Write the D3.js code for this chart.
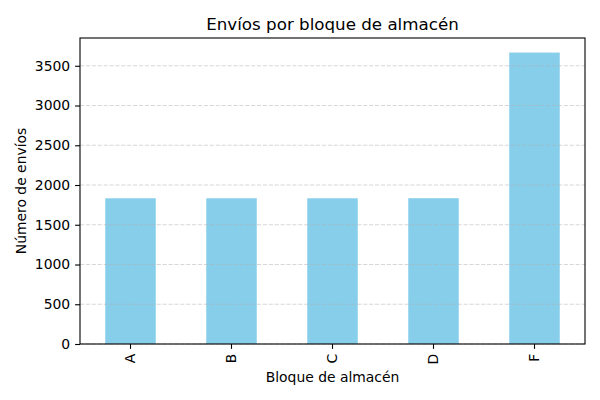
<!DOCTYPE html>
<html><head><meta charset="utf-8">
<script src="https://cdn.jsdelivr.net/npm/d3@7"></script>
<style>body{margin:0;background:#fff}svg{display:block}text{font-family:"DejaVu Sans",sans-serif;fill:#000}</style>
</head><body>
<script>
const categories = ["A", "B", "C", "D", "F"];
const values = [1833, 1833, 1833, 1834, 3666];
const yTicks = [0, 500, 1000, 1500, 2000, 2500, 3000, 3500];
const title = "Envíos por bloque de almacén";
const xLabel = "Bloque de almacén";
const yLabel = "Número de envíos";

const W = 600, H = 400;
const m = {l: 80, r: 15, t: 38, b: 56};
const svg = d3.select("body").append("svg").attr("width", W).attr("height", H);
const iw = W - m.l - m.r, ih = H - m.t - m.b;
const g = svg.append("g").attr("transform", `translate(${m.l},${m.t})`);

const x = d3.scaleBand().domain(categories).range([0, iw]).paddingInner(0.5).paddingOuter(0.25);
const y = d3.scaleLinear().domain([0, d3.max(values) * 1.05]).range([ih, 0]);

g.selectAll("rect.bar").data(categories).join("rect").attr("class", "bar")
  .attr("x", d => x(d)).attr("width", x.bandwidth())
  .attr("y", (d, i) => y(values[i])).attr("height", (d, i) => ih - y(values[i]))
  .attr("fill", "#87CEEB");

// grid (above bars)
g.selectAll("line.grid").data(yTicks).join("line").attr("class", "grid")
  .attr("x1", 0).attr("x2", iw).attr("y1", d => y(d)).attr("y2", d => y(d))
  .attr("stroke", "#b0b0b0").attr("stroke-opacity", 0.5).attr("stroke-width", 1.1)
  .attr("stroke-dasharray", "4.1,1.8");

const yAxis = d3.axisLeft(y).tickValues(yTicks).tickSize(4.9).tickPadding(4.9).tickFormat(d3.format("d"));
const ya = g.append("g").call(yAxis);
ya.select(".domain").remove();
ya.selectAll("text").style("font-size", "13.9px").style("font-family", "DejaVu Sans");
ya.selectAll("line").attr("stroke-width", 1.1);

const xAxis = d3.axisBottom(x).tickSize(4.9).tickPadding(4.9);
const xa = g.append("g").attr("transform", `translate(0,${ih})`).call(xAxis);
xa.select(".domain").remove();
xa.selectAll("line").attr("stroke-width", 1.1);
xa.selectAll("text").style("font-size", "13.9px").style("font-family", "DejaVu Sans")
  .attr("transform", "rotate(-90)").attr("text-anchor", "end").attr("dy", "0.35em")
  .attr("x", -9.8).attr("y", 0);

g.append("rect").attr("x", 0).attr("y", 0).attr("width", iw).attr("height", ih)
  .attr("fill", "none").attr("stroke", "#000").attr("stroke-width", 1.1);

svg.append("text").attr("x", m.l + iw / 2).attr("y", 30).attr("text-anchor", "middle")
  .style("font-size", "16.7px").text(title);
svg.append("text").attr("x", m.l + iw / 2).attr("y", 382).attr("text-anchor", "middle")
  .style("font-size", "13.9px").text(xLabel);
svg.append("text").attr("transform", `translate(26,${m.t + ih / 2}) rotate(-90)`).attr("text-anchor", "middle")
  .style("font-size", "13.9px").text(yLabel);
</script>
</body></html>
